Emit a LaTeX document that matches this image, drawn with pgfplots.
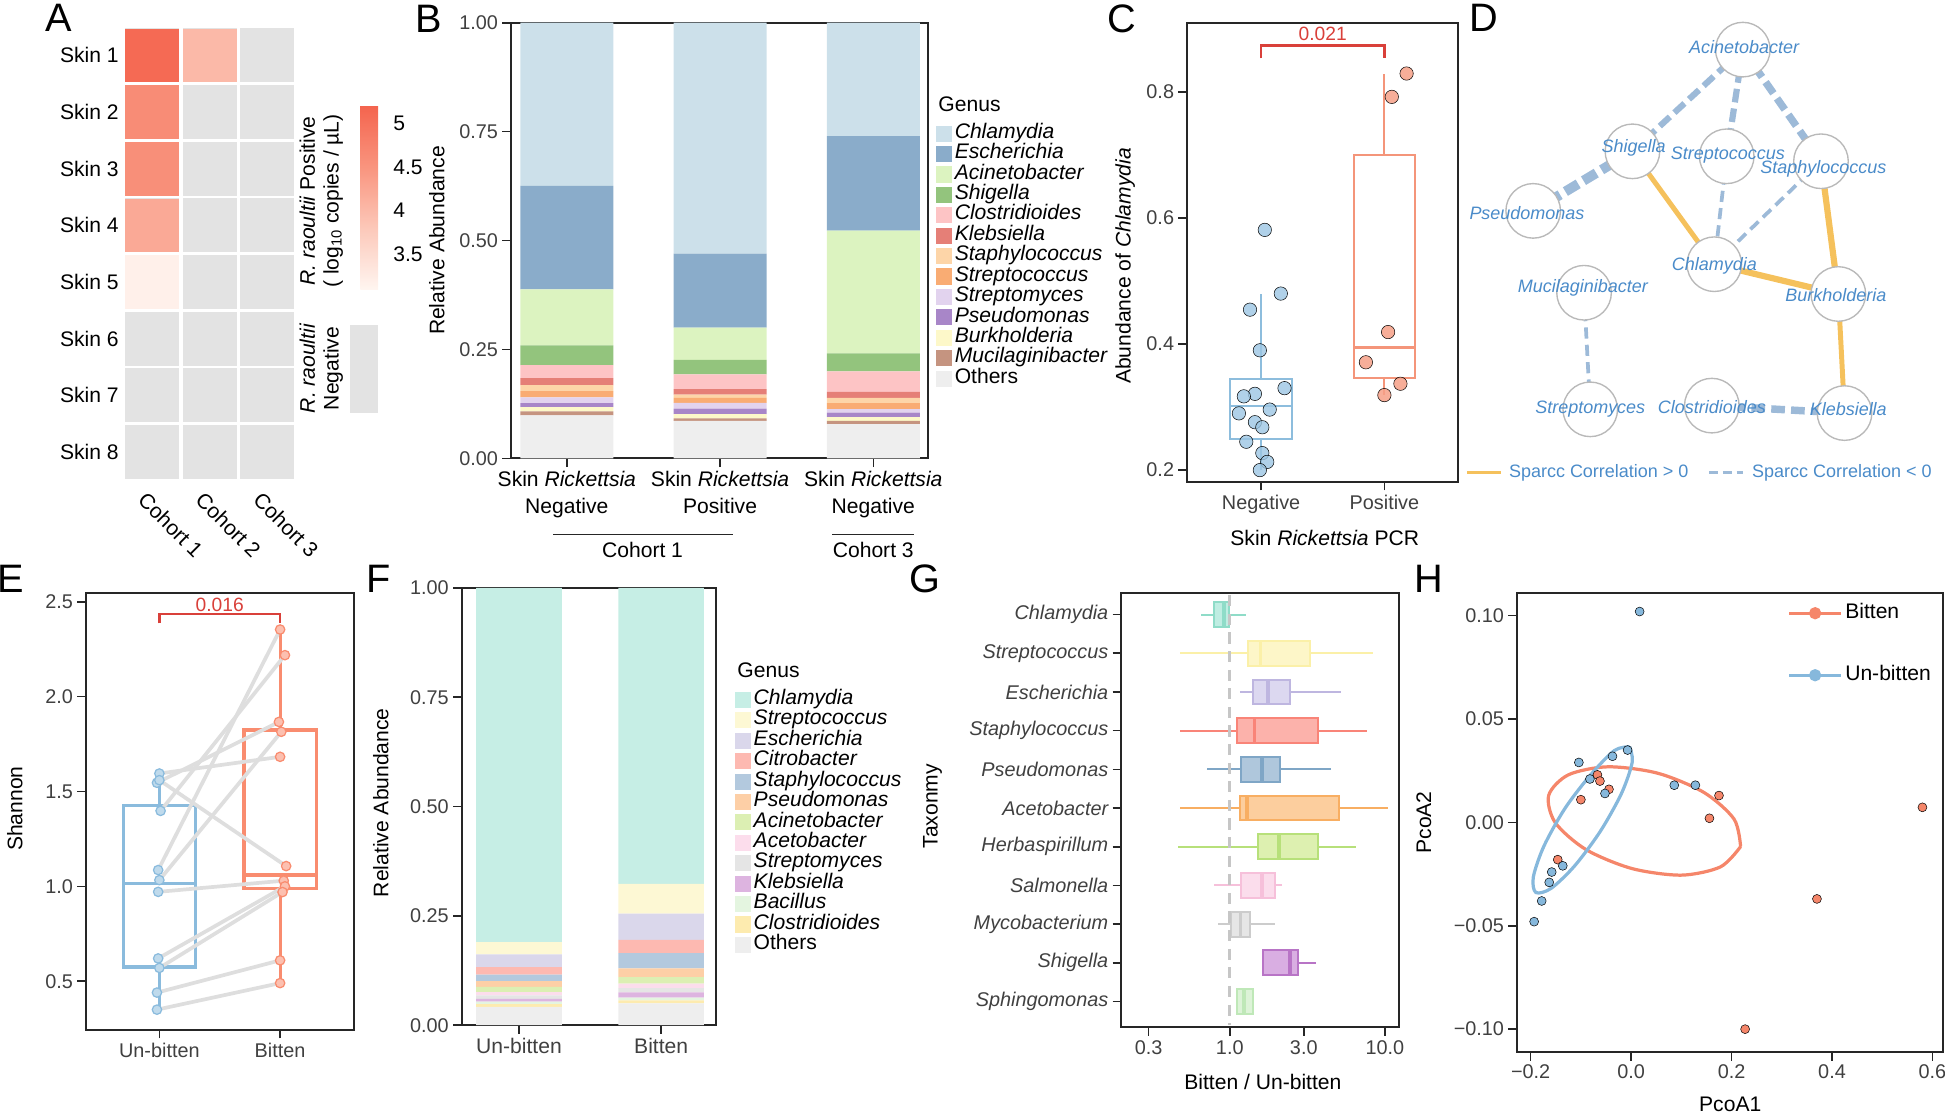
\documentclass[border=0pt]{standalone}
\usepackage{pgfplots}
\pgfplotsset{compat=1.18}
\usepgfplotslibrary{statistics}
\usepackage{fontspec}
\setmainfont{Liberation Sans}
\newcommand\fs{\fontsize{17}{19}\selectfont}
\newcommand\tfs{\fontsize{16}{18}\selectfont}
\newcommand\dfs{\fontsize{14.5}{16}\selectfont}
\newcommand\lfs{\fontsize{17}{16.46}\selectfont}
\newcommand\pfs{\fontsize{32}{32}\selectfont}
\newcommand\sfs{\fontsize{15.5}{16}\selectfont}

\definecolor{tcol}{HTML}{404040}
\definecolor{spine}{HTML}{262626}
\definecolor{bChl}{HTML}{CCE0EA}
\definecolor{bEsc}{HTML}{8AACCA}
\definecolor{bAci}{HTML}{DCF3C0}
\definecolor{bShi}{HTML}{93C47D}
\definecolor{bClo}{HTML}{FDC4C5}
\definecolor{bKle}{HTML}{E57F77}
\definecolor{bSta}{HTML}{FDD5A8}
\definecolor{bStr}{HTML}{F9AC73}
\definecolor{bSty}{HTML}{E2D3EE}
\definecolor{bPse}{HTML}{A886C8}
\definecolor{bBur}{HTML}{FDF8C9}
\definecolor{bMuc}{HTML}{C59480}
\definecolor{bOth}{HTML}{EEEEEE}
\definecolor{fChl}{HTML}{C6EEE5}
\definecolor{fStr}{HTML}{FDF8D4}
\definecolor{fEsc}{HTML}{DAD7EB}
\definecolor{fCit}{HTML}{FDB9B1}
\definecolor{fSta}{HTML}{B3C9DE}
\definecolor{fPse}{HTML}{FDCFA6}
\definecolor{fAci}{HTML}{DCEFB3}
\definecolor{fAce}{HTML}{FCDDEC}
\definecolor{fSty}{HTML}{E5E5E5}
\definecolor{fKle}{HTML}{DDB4E0}
\definecolor{fBac}{HTML}{E4F5E0}
\definecolor{fClo}{HTML}{FDEBAF}
\definecolor{fOth}{HTML}{EEEEEE}
\definecolor{cblue}{HTML}{8DBDDD}
\definecolor{cbluept}{HTML}{9CC6E3}
\definecolor{corange}{HTML}{F4957A}
\definecolor{corangept}{HTML}{F6A087}
\definecolor{sigred}{HTML}{D9403A}
\definecolor{netblue}{HTML}{4A8BC9}
\definecolor{edgeblue}{HTML}{9DBAD8}
\definecolor{edgeorange}{HTML}{F5C15C}
\definecolor{hmgray}{HTML}{E3E3E3}
\definecolor{eblue}{HTML}{8ABBDD}
\definecolor{eorange}{HTML}{F98C6F}
\definecolor{pairgray}{HTML}{DEDEDE}
\definecolor{hblue}{HTML}{86B8DC}
\definecolor{horange}{HTML}{F5866A}
\definecolor{gChlL}{HTML}{8FDCC8}\definecolor{gChlF}{HTML}{BFEDE2}
\definecolor{gStrL}{HTML}{FBF0A8}\definecolor{gStrF}{HTML}{FDF6C8}
\definecolor{gEscL}{HTML}{BEB6E0}\definecolor{gEscF}{HTML}{DCD8F0}
\definecolor{gStaL}{HTML}{F98478}\definecolor{gStaF}{HTML}{FCB2AB}
\definecolor{gPseL}{HTML}{7FA6C6}\definecolor{gPseF}{HTML}{AFC7DC}
\definecolor{gAceL}{HTML}{F8AE62}\definecolor{gAceF}{HTML}{FCCE9E}
\definecolor{gHerL}{HTML}{B7E07A}\definecolor{gHerF}{HTML}{DDF0B0}
\definecolor{gSalL}{HTML}{F6C0DA}\definecolor{gSalF}{HTML}{FBDDEC}
\definecolor{gMycL}{HTML}{CCCCCC}\definecolor{gMycF}{HTML}{E6E6E6}
\definecolor{gShiL}{HTML}{B874C6}\definecolor{gShiF}{HTML}{D9AEE2}
\definecolor{gSphL}{HTML}{BFE8B8}\definecolor{gSphF}{HTML}{DDF3D8}

\pgfplotsset{
  base/.style={scale only axis, anchor=north west, clip=false,
    axis line style={line width=1.6pt, spine},
    tick style={line width=1.3pt, spine},
    major tick length=7pt, tick align=outside, tick pos=left,
    ticklabel style={font=\tfs, tcol},
    label style={font=\fs, black},
    /pgf/number format/assume math mode=true},
  sq/.style={fill=#1, draw=none, legend image code/.code={\path[fill=#1] (0pt,-6.5pt) rectangle (13pt,6.5pt);}},
  gbox/.style n args={2}{draw=#1, fill=#2, line width=1.6pt, boxplot/every median/.style={line width=3pt}},
}

\begin{document}
\begin{tikzpicture}
\useasboundingbox (0,0) rectangle (1568pt,-899pt);

% ---------------- A ----------------
\begin{axis}[base, at={(99.25pt,-21.65pt)}, width=139.5pt, height=365.6pt,
  xmin=-0.5, xmax=2.5, ymin=-0.5, ymax=7.5, y dir=reverse,
  axis line style={draw=none}, major tick length=0pt,
  xtick={0,1,2}, xticklabels={Cohort 1,Cohort 2,Cohort 3},
  xticklabel style={rotate=-45, anchor=north west, font=\fs, black, xshift=0pt, yshift=-5pt},
  ytick={0,...,7}, yticklabels={Skin 1,Skin 2,Skin 3,Skin 4,Skin 5,Skin 6,Skin 7,Skin 8},
  yticklabel style={font=\fs, black},
  colormap={reds}{rgb255=(255,245,240) rgb255=(252,200,185) rgb255=(249,148,126) rgb255=(244,100,78)},
  point meta min=3.1, point meta max=5.21,
  colorbar,
  colorbar style={at={(parent axis.north east)}, anchor=north west, xshift=43.25pt, yshift=-63.35pt,
     width=23pt, height=148pt, scale only axis, axis line style={draw=none}, major tick length=0pt,
     ytick={3.5,4,4.5,5}, yticklabels={3.5,4,4.5,5}, yticklabel pos=right,
     yticklabel style={font=\fs, black}}]
\addplot[only marks, mark=square*, mark size=21.4pt, hmgray, mark options={line width=0pt}] coordinates {
 (0,0)(1,0)(2,0)(0,1)(1,1)(2,1)(0,2)(1,2)(2,2)(0,3)(1,3)(2,3)
 (0,4)(1,4)(2,4)(0,5)(1,5)(2,5)(0,6)(1,6)(2,6)(0,7)(1,7)(2,7)};
\addplot[scatter, only marks, mark=square*, mark size=21.2pt, point meta=explicit,
  scatter/use mapped color={draw=mapped color, fill=mapped color}, mark options={line width=0.6pt}] coordinates {
 (0,0) [5.12] (1,0) [4.0] (0,1) [4.62] (0,2) [4.58] (0,3) [4.22] (0,4) [3.18]};
\end{axis}
\node[rotate=90, align=center, font=\fontsize{17}{19}\selectfont] at (259pt,-162pt) {\textit{R. raoultii} Positive\\( log\textsubscript{10} copies / µL)};
\node[rotate=90, align=center, font=\fontsize{17}{19}\selectfont] at (259pt,-297pt) {\textit{R. raoultii}\\Negative};
\fill[hmgray] (282pt,-262pt) rectangle (305pt,-333pt);

% ---------------- B ----------------
\begin{axis}[base, at={(412pt,-18.3pt)}, width=336.5pt, height=351.3pt,
  xmin=-0.364, xmax=2.36, ymin=0, ymax=1,
  ybar stacked, bar width=75pt,
  xtick={0,1,2}, xticklabels={{Skin \textit{Rickettsia}\\Negative},{Skin \textit{Rickettsia}\\Positive},{Skin \textit{Rickettsia}\\Negative}},
  xticklabel style={align=center, font=\fontsize{17}{21.5}\selectfont, black},
  ytick={0,0.25,0.5,0.75,1}, yticklabels={0.00,0.25,0.50,0.75,1.00},
  ylabel={Relative Abundance}, ylabel style={at={(axis description cs:-0.178,0.5)}, anchor=center},
  reverse legend, legend cell align=left,
  legend image code/.code={\path[#1, draw=none] (0pt,-6.5pt) rectangle (13pt,6.5pt);},
  legend style={at={(1,1)}, anchor=north west, xshift=6pt, yshift=-81pt, draw=none, fill=none, inner sep=0pt,
     font=\lfs\itshape, nodes={text height=12pt, text depth=4.46pt, inner ysep=0pt}, row sep=0pt}]
\addplot[sq=bOth] coordinates {(0,0.099)(1,0.086)(2,0.079)}; \addlegendentry{\textup{Others}}
\addplot[sq=bMuc] coordinates {(0,0.009)(1,0.006)(2,0.007)}; \addlegendentry{Mucilaginibacter}
\addplot[sq=bBur] coordinates {(0,0.010)(1,0.0095)(2,0.009)}; \addlegendentry{Burkholderia}
\addplot[sq=bPse] coordinates {(0,0.009)(1,0.013)(2,0.010)}; \addlegendentry{Pseudomonas}
\addplot[sq=bSty] coordinates {(0,0.013)(1,0.013)(2,0.008)}; \addlegendentry{Streptomyces}
\addplot[sq=bStr] coordinates {(0,0.0143)(1,0.0115)(2,0.014)}; \addlegendentry{Streptococcus}
\addplot[sq=bSta] coordinates {(0,0.014)(1,0.0076)(2,0.012)}; \addlegendentry{Staphylococcus}
\addplot[sq=bKle] coordinates {(0,0.016)(1,0.0124)(2,0.014)}; \addlegendentry{Klebsiella}
\addplot[sq=bClo] coordinates {(0,0.030)(1,0.034)(2,0.047)}; \addlegendentry{Clostridioides}
\addplot[sq=bShi] coordinates {(0,0.045)(1,0.033)(2,0.041)}; \addlegendentry{Shigella}
\addplot[sq=bAci] coordinates {(0,0.1285)(1,0.074)(2,0.282)}; \addlegendentry{Acinetobacter}
\addplot[sq=bEsc] coordinates {(0,0.238)(1,0.170)(2,0.217)}; \addlegendentry{Escherichia}
\addplot[sq=bChl] coordinates {(0,0.3742)(1,0.530)(2,0.260)}; \addlegendentry{Chlamydia}
\end{axis}
\node[anchor=base west, font=\fs] at (753pt,-90pt) {Genus};
\draw[line width=1.3pt, spine] (446pt,-431pt) -- (591pt,-431pt);
\node[font=\fs] at (518pt,-443pt) {Cohort 1};
\draw[line width=1.3pt, spine] (671pt,-431pt) -- (737pt,-431pt);
\node[font=\fs] at (704pt,-443pt) {Cohort 3};

% ---------------- C ----------------
\begin{axis}[base, at={(957pt,-18.3pt)}, width=218pt, height=370.1pt,
  xmin=-0.6, xmax=1.593, ymin=0.1815, ymax=0.9096,
  xtick={0,1}, xticklabels={Negative,Positive},
  ytick={0.2,0.4,0.6,0.8}, yticklabels={0.2,0.4,0.6,0.8},
  xlabel={Skin \textit{Rickettsia} PCR}, xlabel style={at={(axis description cs:0.509,-0.123)}, anchor=center},
  ylabel={Abundance of \textit{Chlamydia}}, ylabel style={at={(axis description cs:-0.229,0.47)}, anchor=center},
  boxplot/draw direction=y, boxplot/whisker extend=0, boxplot/box extend=0.5]
\addplot[cblue, line width=1.6pt, boxplot prepared={draw position=0, lower whisker=0.2, lower quartile=0.249, median=0.302, upper quartile=0.345, upper whisker=0.48}] coordinates {};
\addplot[corange, line width=1.6pt, boxplot/every median/.style={line width=2.6pt}, boxplot prepared={draw position=1, lower whisker=0.319, lower quartile=0.346, median=0.395, upper quartile=0.699, upper whisker=0.829}] coordinates {};
\addplot[only marks, mark=*, mark size=5.4pt, mark options={draw=none, fill=cbluept, fill opacity=0.8}] coordinates {
 (0.03,0.581)(0.16,0.48)(-0.09,0.4545)(-0.01,0.39)(0.19,0.33)(-0.05,0.321)(-0.14,0.317)
 (0.07,0.296)(-0.18,0.29)(-0.05,0.276)(0.01,0.268)(-0.12,0.245)(0.01,0.227)(0.05,0.213)(-0.01,0.2)};
\addplot[only marks, mark=*, mark size=5.4pt, mark options={draw=none, fill=corangept, fill opacity=0.85}] coordinates {
 (1.18,0.829)(1.06,0.792)(1.03,0.419)(0.85,0.371)(1.13,0.337)(1.0,0.319)};
\addplot[sigred, line width=2.2pt] coordinates {(0,0.853)(0,0.874)(1,0.874)(1,0.853)};
\node[sigred, font=\sfs] at (axis cs:0.5,0.892) {0.021};
\end{axis}

% ---------------- D ----------------
\begin{axis}[at={(1160pt,0pt)}, anchor=north west, scale only axis, width=408pt, height=400pt,
  xmin=1160, xmax=1568, ymin=-400, ymax=0, hide axis, clip=false]
\addplot[edgeblue, line width=5pt, dash pattern=on 11pt off 5pt] coordinates {(1405,-40)(1316,-122)};
\addplot[edgeblue, line width=5pt, dash pattern=on 11pt off 5pt] coordinates {(1405,-40)(1392,-126)};
\addplot[edgeblue, line width=6pt, dash pattern=on 11pt off 5pt] coordinates {(1405,-40)(1468,-130)};
\addplot[edgeblue, line width=8pt, dash pattern=on 12pt off 5pt] coordinates {(1316,-122)(1236,-170)};
\addplot[edgeorange, line width=4pt] coordinates {(1316,-122)(1382,-213)};
\addplot[edgeblue, line width=3pt, dash pattern=on 9pt off 5pt] coordinates {(1392,-126)(1382,-213)};
\addplot[edgeblue, line width=3pt, dash pattern=on 9pt off 5pt] coordinates {(1468,-130)(1382,-213)};
\addplot[edgeorange, line width=5pt] coordinates {(1382,-213)(1482,-237)};
\addplot[edgeorange, line width=5pt] coordinates {(1468,-130)(1482,-237)};
\addplot[edgeorange, line width=4pt] coordinates {(1482,-237)(1487,-333)};
\addplot[edgeblue, line width=3pt, dash pattern=on 9pt off 5pt] coordinates {(1277,-236)(1282,-330)};
\addplot[edgeblue, line width=6pt, dash pattern=on 11pt off 5pt] coordinates {(1380,-327)(1487,-333)};
\addplot[only marks, mark=*, mark size=22pt, mark options={fill=white, draw=gray!55, line width=1.1pt}] coordinates {
 (1405,-40)(1316,-122)(1392,-126)(1468,-130)(1236,-170)(1277,-236)(1382,-213)(1482,-237)(1282,-330)(1380,-327)(1487,-333)};
\addplot[edgeorange, line width=2.5pt] coordinates {(1183,-381)(1210,-381)};
\addplot[edgeblue, line width=2.5pt, dash pattern=on 7pt off 4pt] coordinates {(1378,-381)(1405,-381)};
\end{axis}
\begin{scope}[every node/.style={font=\dfs\itshape, netblue}]
\node at (1406pt,-38pt) {Acinetobacter};
\node at (1317pt,-119pt) {Shigella};
\node at (1393pt,-125pt) {Streptococcus};
\node at (1470pt,-136pt) {Staphylococcus};
\node at (1231pt,-172pt) {Pseudomonas};
\node at (1276pt,-232pt) {Mucilaginibacter};
\node at (1382pt,-214pt) {Chlamydia};
\node at (1480pt,-238pt) {Burkholderia};
\node at (1282pt,-330pt) {Streptomyces};
\node at (1380pt,-328pt) {Clostridioides};
\node at (1490pt,-330pt) {Klebsiella};
\end{scope}
\node[anchor=west, font=\dfs, netblue] at (1213pt,-381pt) {Sparcc Correlation > 0};
\node[anchor=west, font=\dfs, netblue] at (1409pt,-381pt) {Sparcc Correlation < 0};

% ---------------- E ----------------
\begin{axis}[base, at={(69.4pt,-478pt)}, width=215.6pt, height=352pt,
  xmin=-0.607, xmax=1.608, ymin=0.245, ymax=2.547,
  xtick={0,1}, xticklabels={Un-bitten,Bitten},
  ytick={0.5,1,1.5,2,2.5}, yticklabels={0.5,1.0,1.5,2.0,2.5},
  ylabel={Shannon}, ylabel style={at={(axis description cs:-0.266,0.506)}, anchor=center},
  boxplot/draw direction=y, boxplot/whisker extend=0, boxplot/box extend=0.6]
\addplot[eblue, line width=2.6pt, boxplot prepared={draw position=0, lower whisker=0.35, lower quartile=0.575, median=1.015, upper quartile=1.428, upper whisker=1.595}] coordinates {};
\addplot[eorange, line width=2.6pt, boxplot prepared={draw position=1, lower whisker=0.49, lower quartile=0.99, median=1.06, upper quartile=1.824, upper whisker=2.354}] coordinates {};
\addplot[only marks, mark=*, mark size=3.8pt, mark options={draw=eblue, fill=eblue!55, line width=1pt}] coordinates {
 (0.0,1.595)(-0.02,1.546)(0.0,1.56)(0.01,1.398)(-0.01,1.086)(0.0,1.033)(-0.01,0.971)(-0.01,0.62)(0.0,0.57)(-0.02,0.44)(-0.02,0.35)};
\addplot[only marks, mark=*, mark size=3.8pt, mark options={draw=eorange, fill=eorange!55, line width=1pt}] coordinates {
 (1.0,2.354)(1.04,2.219)(0.99,1.867)(1.01,1.815)(1.0,1.683)(1.05,1.107)(1.03,1.03)(1.04,1.0)(1.02,0.97)(1.0,0.61)(1.0,0.49)};
\addplot[pairgray, line width=3pt] coordinates {(0.0,1.595)(1.0,1.683)};
\addplot[pairgray, line width=3pt] coordinates {(-0.02,1.546)(0.99,1.867)};
\addplot[pairgray, line width=3pt] coordinates {(0.0,1.56)(1.05,1.107)};
\addplot[pairgray, line width=3pt] coordinates {(0.01,1.398)(1.04,2.219)};
\addplot[pairgray, line width=3pt] coordinates {(-0.01,1.086)(1.0,2.354)};
\addplot[pairgray, line width=3pt] coordinates {(0.0,1.033)(1.01,1.815)};
\addplot[pairgray, line width=3pt] coordinates {(-0.01,0.971)(1.03,1.03)};
\addplot[pairgray, line width=3pt] coordinates {(-0.01,0.62)(1.04,1.0)};
\addplot[pairgray, line width=3pt] coordinates {(0.0,0.57)(1.02,0.97)};
\addplot[pairgray, line width=3pt] coordinates {(-0.02,0.44)(1.0,0.61)};
\addplot[pairgray, line width=3pt] coordinates {(-0.02,0.35)(1.0,0.49)};
\addplot[sigred, line width=2.2pt] coordinates {(0,2.386)(0,2.436)(1,2.436)(1,2.386)};
\node[sigred, font=\sfs] at (axis cs:0.5,2.484) {0.016};
\end{axis}

% ---------------- F ----------------
\begin{axis}[base, at={(372.3pt,-474pt)}, width=205.1pt, height=352.5pt,
  xmin=-0.402, xmax=1.387, ymin=0, ymax=1,
  ybar stacked, bar width=69pt,
  xtick={0,1}, xticklabels={Un-bitten,Bitten},
  xticklabel style={font=\fs, tcol},
  ytick={0,0.25,0.5,0.75,1}, yticklabels={0.00,0.25,0.50,0.75,1.00},
  ylabel={Relative Abundance}, ylabel style={at={(axis description cs:-0.318,0.509)}, anchor=center},
  reverse legend, legend cell align=left,
  legend image code/.code={\path[#1, draw=none] (0pt,-6.5pt) rectangle (13pt,6.5pt);},
  legend style={at={(1,1)}, anchor=north west, xshift=15pt, yshift=-81.8pt, draw=none, fill=none, inner sep=0pt,
     font=\lfs\itshape, nodes={text height=12pt, text depth=4.46pt, inner ysep=0pt}, row sep=0pt}]
\addplot[sq=fOth] coordinates {(0,0.042)(1,0.050)}; \addlegendentry{\textup{Others}}
\addplot[sq=fClo] coordinates {(0,0.006)(1,0.007)}; \addlegendentry{Clostridioides}
\addplot[sq=fBac] coordinates {(0,0.006)(1,0.006)}; \addlegendentry{Bacillus}
\addplot[sq=fKle] coordinates {(0,0.006)(1,0.012)}; \addlegendentry{Klebsiella}
\addplot[sq=fSty] coordinates {(0,0.008)(1,0.010)}; \addlegendentry{Streptomyces}
\addplot[sq=fAce] coordinates {(0,0.008)(1,0.010)}; \addlegendentry{Acetobacter}
\addplot[sq=fAci] coordinates {(0,0.012)(1,0.015)}; \addlegendentry{Acinetobacter}
\addplot[sq=fPse] coordinates {(0,0.013)(1,0.020)}; \addlegendentry{Pseudomonas}
\addplot[sq=fSta] coordinates {(0,0.015)(1,0.035)}; \addlegendentry{Staphylococcus}
\addplot[sq=fCit] coordinates {(0,0.017)(1,0.030)}; \addlegendentry{Citrobacter}
\addplot[sq=fEsc] coordinates {(0,0.029)(1,0.060)}; \addlegendentry{Escherichia}
\addplot[sq=fStr] coordinates {(0,0.028)(1,0.068)}; \addlegendentry{Streptococcus}
\addplot[sq=fChl] coordinates {(0,0.810)(1,0.677)}; \addlegendentry{Chlamydia}
\end{axis}
\node[anchor=base west, font=\fs] at (591pt,-546pt) {Genus};

% ---------------- G ----------------
\begin{axis}[base, at={(904pt,-478pt)}, width=223.7pt, height=350pt,
  xmin=-0.699, xmax=1.09, ymin=-0.558, ymax=10.66, y dir=reverse,
  xtick={-0.5229,0,0.4771,1}, xticklabels={0.3,1.0,3.0,10.0},
  ytick={0,...,10}, yticklabels={Chlamydia,Streptococcus,Escherichia,Staphylococcus,Pseudomonas,Acetobacter,Herbaspirillum,Salmonella,Mycobacterium,Shigella,Sphingomonas},
  yticklabel style={font=\tfs\itshape, tcol},
  xlabel={Bitten / Un-bitten}, xlabel style={at={(axis description cs:0.51,-0.126)}, anchor=center},
  ylabel={Taxonmy}, ylabel style={at={(axis description cs:-0.68,0.509)}, anchor=center},
  boxplot/draw direction=x, boxplot/whisker extend=0, boxplot/box extend=0.64]
\addplot[gbox={gChlL}{gChlF}, boxplot prepared={draw position=0, lower whisker=-0.185, lower quartile=-0.103, median=-0.038, upper quartile=-0.004, upper whisker=0.106}] coordinates {};
\addplot[gbox={gStrL}{gStrF}, boxplot prepared={draw position=1, lower whisker=-0.318, lower quartile=0.118, median=0.198, upper quartile=0.52, upper whisker=0.924}] coordinates {};
\addplot[gbox={gEscL}{gEscF}, boxplot prepared={draw position=2, lower whisker=0.065, lower quartile=0.150, median=0.245, upper quartile=0.391, upper whisker=0.718}] coordinates {};
\addplot[gbox={gStaL}{gStaF}, boxplot prepared={draw position=3, lower whisker=-0.322, lower quartile=0.047, median=0.159, upper quartile=0.568, upper whisker=0.886}] coordinates {};
\addplot[gbox={gPseL}{gPseF}, boxplot prepared={draw position=4, lower whisker=-0.150, lower quartile=0.073, median=0.209, upper quartile=0.322, upper whisker=0.654}] coordinates {};
\addplot[gbox={gAceL}{gAceF}, boxplot prepared={draw position=5, lower whisker=-0.318, lower quartile=0.065, median=0.112, upper quartile=0.707, upper whisker=1.019}] coordinates {};
\addplot[gbox={gHerL}{gHerF}, boxplot prepared={draw position=6, lower whisker=-0.334, lower quartile=0.182, median=0.316, upper quartile=0.568, upper whisker=0.815}] coordinates {};
\addplot[gbox={gSalL}{gSalF}, boxplot prepared={draw position=7, lower whisker=-0.103, lower quartile=0.073, median=0.209, upper quartile=0.290, upper whisker=0.338}] coordinates {};
\addplot[gbox={gMycL}{gMycF}, boxplot prepared={draw position=8, lower whisker=-0.075, lower quartile=0.005, median=0.069, upper quartile=0.133, upper whisker=0.293}] coordinates {};
\addplot[gbox={gShiL}{gShiF}, boxplot prepared={draw position=9, lower whisker=0.213, lower quartile=0.213, median=0.389, upper quartile=0.437, upper whisker=0.557}] coordinates {};
\addplot[gbox={gSphL}{gSphF}, boxplot prepared={draw position=10, lower whisker=0.045, lower quartile=0.045, median=0.093, upper quartile=0.149, upper whisker=0.149}] coordinates {};
\addplot[gray!45, line width=2.6pt, dash pattern=on 9pt off 6pt] coordinates {(0,-0.5)(0,10.6)};
\end{axis}

% ---------------- H ----------------
\begin{axis}[base, at={(1223pt,-478pt)}, width=343pt, height=370pt,
  xmin=-0.227, xmax=0.62, ymin=-0.111, ymax=0.111,
  xtick={-0.2,0,0.2,0.4,0.6}, xticklabels={−0.2,0.0,0.2,0.4,0.6},
  ytick={-0.1,-0.05,0,0.05,0.1}, yticklabels={−0.10,−0.05,0.00,0.05,0.10},
  xlabel={PcoA1}, xlabel style={at={(axis description cs:0.501,-0.114)}, anchor=center},
  ylabel={PcoA2}, ylabel style={at={(axis description cs:-0.219,0.5)}, anchor=center},
  legend cell align=left,
  legend image code/.code={\draw[mark repeat=2, mark phase=2, #1] plot coordinates {(0pt,0pt)(21pt,0pt)(42pt,0pt)};},
  legend style={at={(0.635,0.978)}, anchor=north west, draw=none, fill=none, inner sep=0pt,
     font=\fs, nodes={text height=12pt, text depth=4pt, inner ysep=0pt}, row sep=34pt}]
\addplot[horange, line width=2.6pt, smooth, forget plot] coordinates {
 (0.218,-0.0117)(0.178,-0.0215)(0.100,-0.0255)(0.0015,-0.0223)(-0.090,-0.0131)(-0.151,-0.0001)
 (-0.164,0.0131)(-0.125,0.0230)(-0.046,0.0269)(0.053,0.0238)(0.145,0.0145)(0.205,0.0016)(0.218,-0.0117)};
\addplot[hblue, line width=2.6pt, smooth, forget plot] coordinates {
 (-0.0029,0.0366)(0.0022,0.0291)(-0.0190,0.0141)(-0.0610,-0.0042)(-0.1123,-0.0210)(-0.1593,-0.0319)
 (-0.1896,-0.0339)(-0.1946,-0.0264)(-0.1736,-0.0115)(-0.1316,0.0068)(-0.0803,0.0231)(-0.0331,0.0348)(-0.0029,0.0366)};
\addplot[only marks, mark=*, mark size=3.6pt, mark options={draw=none, fill=horange}, forget plot] coordinates {
 (0.58,0.0073)(0.37,-0.037)(0.227,-0.100)(-0.067,0.023)(-0.062,0.02)(-0.044,0.016)(-0.10,0.011)(-0.146,-0.018)(0.175,0.013)(0.156,0.002)};
\addplot[only marks, mark=*, mark size=3.6pt, mark options={draw=none, fill=hblue}, forget plot] coordinates {
 (0.017,0.102)(-0.104,0.029)(-0.082,0.021)(-0.007,0.035)(-0.037,0.032)(0.086,0.018)(0.128,0.018)(-0.052,0.014)
 (-0.136,-0.021)(-0.158,-0.024)(-0.163,-0.029)(-0.178,-0.038)(-0.193,-0.048)};
\addlegendimage{horange, line width=2.6pt, mark=*, mark size=3.6pt}
\addlegendentry{Bitten}
\addlegendimage{hblue, line width=2.6pt, mark=*, mark size=3.6pt}
\addlegendentry{Un-bitten}
\end{axis}

% panel letters
\node[font=\pfs] at (47pt,-14pt) {A};
\node[font=\pfs] at (346pt,-15pt) {B};
\node[font=\pfs] at (904pt,-15pt) {C};
\node[font=\pfs] at (1196pt,-14pt) {D};
\node[font=\pfs] at (9pt,-467pt) {E};
\node[font=\pfs] at (305pt,-467pt) {F};
\node[font=\pfs] at (746pt,-467pt) {G};
\node[font=\pfs] at (1152pt,-467pt) {H};
\end{tikzpicture}
\end{document}
